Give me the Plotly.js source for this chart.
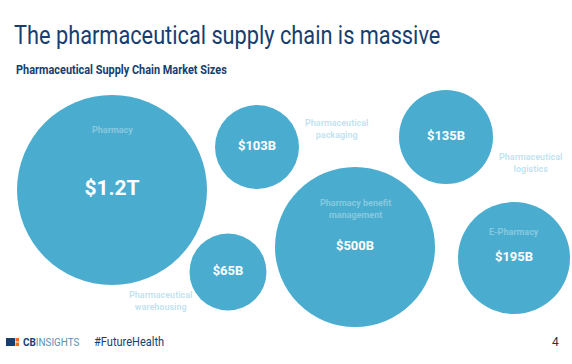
<!DOCTYPE html>
<html>
<head>
<meta charset="utf-8">
<script src="https://cdn.plot.ly/plotly-3.0.1.min.js"></script>
<style>
html,body{margin:0;padding:0;background:#fff;}
#chart{width:572px;height:364px;}
g.annotation[data-index="6"] text.annotation-text{transform:scaleX(0.87);transform-box:fill-box;transform-origin:0 0;}
g.annotation[data-index="7"] text.annotation-text{transform:scaleX(0.91);transform-box:fill-box;transform-origin:0 0;}
g.annotation[data-index="8"] text.annotation-text{transform:scaleX(0.9);transform-box:fill-box;transform-origin:0 0;}
g.annotation[data-index="9"] text.annotation-text{transform:scaleX(0.92);transform-box:fill-box;transform-origin:0 0;}
</style>
</head>
<body>
<div id="chart"></div>
<script>
// Data
const segments = ["Pharmacy", "Pharmaceutical<br>packaging", "Pharmaceutical<br>warehousing", "Pharmaceutical<br>logistics", "Pharmacy benefit<br>management", "E-Pharmacy"];
const marketSizeBillions = [1200, 103, 65, 135, 500, 195];
const valueLabels = ["$1.2T", "$103B", "$65B", "$135B", "$500B", "$195B"];

// Layout (bubble placement, in pixel-like coordinates)
const bubbleX = [112, 257, 228, 446, 355, 514];
const bubbleY = [190, 147, 272, 137, 247, 258];
const bubbleDiameter = [190, 84, 77, 94, 160, 112];
const labelFontSize = [21, 13, 13, 13, 13, 13];

const navy = "#163e70";
const bubbleColor = "#4aadcf";

const trace = {
  type: "scatter",
  mode: "markers+text",
  x: bubbleX,
  y: bubbleY,
  text: valueLabels,
  customdata: marketSizeBillions,
  textposition: "middle center",
  textfont: {family: "Roboto, sans-serif", size: labelFontSize, color: "#ffffff", weight: 700},
  marker: {size: bubbleDiameter, sizemode: "diameter", color: bubbleColor, opacity: 1, line: {width: 0}},
  hoverinfo: "skip",
  cliponaxis: false
};

// faint segment names (blurred in the original)
const segX = [112, 336, 160, 530, 355, 514];
const segY = [130, 129, 301, 163, 209, 232];
const segInside = [true, false, false, false, true, true];
const annotations = segments.map((s, i) => ({
  x: segX[i], y: segY[i], xref: "x", yref: "y",
  text: s, showarrow: false,
  font: {family: "Roboto, sans-serif", size: 9, weight: 700,
         color: segInside[i] ? "rgba(255,255,255,0.35)" : "rgba(74,173,207,0.35)"},
  align: "center"
}));

annotations.push(
  {x: 12, y: 52, xref: "x", yref: "y", xanchor: "left", yanchor: "bottom",
   text: "The pharmaceutical supply chain is massive", showarrow: false,
   font: {family: "Roboto, sans-serif", size: 25, color: navy}},
  {x: 14, y: 79, xref: "x", yref: "y", xanchor: "left", yanchor: "bottom",
   text: "<b>Pharmaceutical Supply Chain Market Sizes</b>", showarrow: false,
   font: {family: "Roboto, sans-serif", size: 12, color: navy}},
  {x: 21, y: 342, xref: "x", yref: "y", xanchor: "left", yanchor: "middle",
   text: "<b>CB</b><span style='color:#5d8fb6'>INSIGHTS</span>", showarrow: false,
   font: {family: "Roboto, sans-serif", size: 11, color: navy}},
  {x: 92, y: 342, xref: "x", yref: "y", xanchor: "left", yanchor: "middle",
   text: "#FutureHealth", showarrow: false,
   font: {family: "Roboto, sans-serif", size: 12, color: navy}},
  {x: 561, y: 342, xref: "x", yref: "y", xanchor: "right", yanchor: "middle",
   text: "4", showarrow: false,
   font: {family: "Roboto, sans-serif", size: 12, color: "#333"}}
);

const layout = {
  width: 572, height: 364,
  margin: {l: 0, r: 0, t: 0, b: 0},
  paper_bgcolor: "#ffffff", plot_bgcolor: "#ffffff",
  showlegend: false,
  xaxis: {range: [0, 572], visible: false, fixedrange: true},
  yaxis: {range: [364, 0], visible: false, fixedrange: true},
  annotations: annotations,
  shapes: [
    {type: "rect", xref: "x", yref: "y", x0: 6, x1: 15, y0: 338, y1: 346, fillcolor: navy, line: {width: 0}},
    {type: "rect", xref: "x", yref: "y", x0: 15.5, x1: 19, y0: 338, y1: 341.5, fillcolor: "#f26b21", line: {width: 0}},
    {type: "rect", xref: "x", yref: "y", x0: 15.5, x1: 19, y0: 342.5, y1: 346, fillcolor: "#f26b21", line: {width: 0}}
  ]
};

Plotly.newPlot("chart", [trace], layout, {displayModeBar: false, staticPlot: true});
</script>
</body>
</html>
